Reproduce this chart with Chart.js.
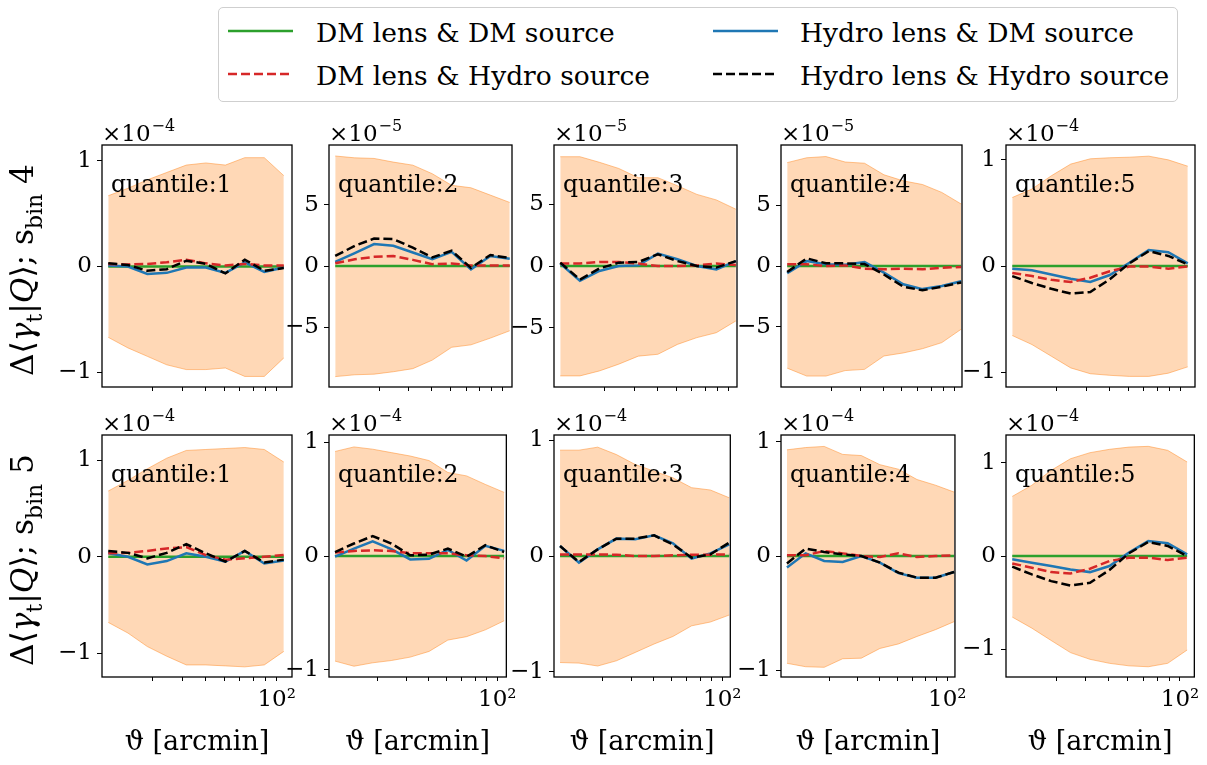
<!DOCTYPE html>
<html>
<head>
<meta charset="utf-8">
<script src="https://cdn.jsdelivr.net/npm/chart.js@4.4.1/dist/chart.umd.min.js"></script>
<style>
html,body{margin:0;padding:0;background:#ffffff;}
body{width:1207px;height:765px;position:relative;overflow:hidden;font-family:'DejaVu Serif',serif;}
canvas{position:absolute;}
#legend{position:absolute;left:218px;top:7px;width:960px;height:95px;border:1px solid #cfcfcf;border-radius:5px;box-sizing:border-box;background:#fff;}
.lgtext{position:absolute;font-size:26.5px;line-height:27px;white-space:nowrap;color:#000;}
svg.lgline{position:absolute;overflow:visible;}
</style>
</head>
<body>
<div id="legend"></div>
<script>
// ---------------- data ----------------
const thetaArcmin = [19.5, 23.6, 28.5, 34.4, 41.6, 50.3, 60.8, 73.4, 88.7, 107.2];
const quantileLabels = ['quantile:1', 'quantile:2', 'quantile:3', 'quantile:4', 'quantile:5'];
const sourceBins = ['4', '5'];
const offsetExponents_s4 = [-4, -5, -5, -5, -4];
const offsetExponents_s5 = [-4, -4, -4, -4, -4];
const xTickValues = [30, 40, 50, 60, 70, 80, 90, 100];
const xTickLabel100 = '10²';
const yTicks_s4 = [[-1, 0, 1], [-5, 0, 5], [-5, 0, 5], [-5, 0, 5], [-1, 0, 1]];
const yTicks_s5 = [[-1, 0, 1], [-1, 0, 1], [-1, 0, 1], [-1, 0, 1], [-1, 0, 1]];
const yMin_s4 = [-1.14, -9.9, -9.8, -9.95, -1.14];
const yMax_s4 = [1.15, 9.9, 9.8, 9.95, 1.14];
const yMin_s5 = [-1.245, -1.065, -1.045, -1.06, -1.30];
const yMax_s5 = [1.26, 1.065, 1.045, 1.06, 1.30];
const xMinArcmin = 18.35;
const xMaxArcmin = [116.1, 109.6, 108.4, 108.1, 115.0];

const legendLabels = ['DM lens & DM source', 'DM lens & Hydro source', 'Hydro lens & DM source', 'Hydro lens & Hydro source'];

const dmLensDmSource = [0, 0, 0, 0, 0, 0, 0, 0, 0, 0];

const hydroLensDmSource_s4 = [
  [0.01, 0.0, -0.07, -0.06, -0.01, -0.01, -0.06, 0.04, -0.05, -0.01],
  [0.33, 1.05, 1.8, 1.65, 1.1, 0.55, 1.15, -0.27, 0.82, 0.6],
  [0.2, -1.2, -0.4, 0.0, 0.05, 1.0, 0.55, 0.0, -0.27, 0.4],
  [-0.6, 0.4, 0.14, 0.1, 0.33, -0.55, -1.5, -1.9, -1.65, -1.25],
  [-0.025, -0.04, -0.08, -0.12, -0.15, -0.085, 0.03, 0.15, 0.13, 0.025]
];
const dmLensHydroSource_s4 = [
  [0.025, 0.02, 0.025, 0.04, 0.065, 0.03, 0.01, 0.025, 0.01, 0.01],
  [0.22, 0.55, 0.75, 0.82, 0.5, 0.15, 0.2, 0.05, 0.05, 0.05],
  [0.2, 0.2, 0.32, 0.32, 0.2, 0.0, 0.0, 0.05, 0.2, 0.08],
  [0.14, 0.14, 0.0, 0.05, -0.22, -0.27, -0.22, -0.27, -0.14, -0.08],
  [-0.065, -0.095, -0.13, -0.15, -0.11, -0.05, -0.005, -0.005, -0.025, -0.005]
];
const hydroLensHydroSource_s4 = [
  [0.03, 0.015, -0.04, -0.025, 0.055, 0.025, -0.065, 0.065, -0.04, -0.015],
  [0.82, 1.65, 2.25, 2.2, 1.5, 0.7, 1.25, -0.15, 0.9, 0.65],
  [0.27, -1.1, -0.2, 0.27, 0.32, 0.95, 0.4, 0.0, -0.13, 0.4],
  [-0.5, 0.63, 0.22, 0.22, 0.16, -0.7, -1.7, -2.0, -1.7, -1.35],
  [-0.095, -0.16, -0.215, -0.26, -0.245, -0.125, 0.025, 0.14, 0.095, 0.015]
];
const bandUpper_s4 = [
  [0.67, 0.74, 0.82, 0.89, 0.96, 0.98, 0.96, 1.03, 1.03, 0.86],
  [9.0, 8.85, 8.8, 8.5, 8.25, 7.55, 6.6, 6.4, 5.8, 5.2],
  [8.85, 8.85, 8.4, 7.9, 7.15, 7.15, 6.5, 5.8, 5.35, 4.6],
  [8.5, 8.9, 9.0, 8.55, 8.45, 7.5, 7.0, 6.7, 6.05, 5.1],
  [0.645, 0.725, 0.85, 0.96, 1.01, 1.02, 1.025, 1.035, 1.0, 0.94]
];
const bandLower_s4 = [
  [-0.67, -0.77, -0.85, -0.93, -0.975, -0.975, -0.96, -1.04, -1.04, -0.865],
  [-9.05, -8.9, -8.85, -8.65, -8.4, -7.7, -6.65, -6.45, -5.9, -5.3],
  [-8.9, -8.9, -8.5, -7.95, -7.3, -7.15, -6.35, -5.8, -5.4, -4.45],
  [-8.4, -9.05, -9.05, -8.6, -8.5, -7.4, -7.15, -6.8, -6.3, -5.2],
  [-0.655, -0.74, -0.85, -0.96, -1.015, -1.03, -1.04, -1.04, -1.01, -0.95]
];

const hydroLensDmSource_s5 = [
  [0.035, 0.0, -0.08, -0.045, 0.035, 0.0, -0.05, 0.06, -0.07, -0.04],
  [-0.006, 0.065, 0.13, 0.06, -0.03, -0.025, 0.053, -0.04, 0.09, 0.045],
  [0.086, -0.057, 0.057, 0.15, 0.144, 0.178, 0.11, -0.023, 0.023, 0.1],
  [-0.1, 0.023, -0.044, -0.053, 0.0, -0.058, -0.15, -0.19, -0.19, -0.14],
  [-0.036, -0.072, -0.108, -0.144, -0.173, -0.108, 0.036, 0.162, 0.137, 0.018]
];
const dmLensHydroSource_s5 = [
  [0.035, 0.04, 0.06, 0.085, 0.1, 0.017, -0.03, -0.017, 0.0, 0.017],
  [0.03, 0.045, 0.05, 0.045, 0.024, 0.024, 0.024, 0.006, 0.0, -0.02],
  [0.014, 0.014, 0.014, 0.011, 0.0, 0.0, 0.006, 0.011, 0.011, 0.014],
  [0.006, 0.006, 0.044, 0.023, 0.0, -0.009, 0.023, -0.009, 0.0, 0.006],
  [-0.08, -0.126, -0.173, -0.187, -0.137, -0.054, -0.018, -0.018, -0.043, -0.018]
];
const hydroLensHydroSource_s5 = [
  [0.06, 0.04, -0.017, 0.04, 0.13, 0.035, -0.05, 0.06, -0.06, -0.03],
  [0.035, 0.11, 0.175, 0.11, 0.006, 0.012, 0.065, -0.006, 0.095, 0.035],
  [0.086, -0.052, 0.057, 0.15, 0.15, 0.178, 0.1, -0.014, 0.014, 0.115],
  [-0.065, 0.065, 0.035, 0.015, 0.0, -0.058, -0.146, -0.19, -0.19, -0.14],
  [-0.115, -0.198, -0.27, -0.317, -0.288, -0.15, 0.029, 0.151, 0.108, 0.0]
];
const bandUpper_s5 = [
  [0.68, 0.79, 0.91, 1.02, 1.10, 1.11, 1.12, 1.13, 1.11, 0.98],
  [0.92, 0.96, 0.94, 0.91, 0.88, 0.84, 0.735, 0.705, 0.63, 0.56],
  [0.914, 0.914, 0.94, 0.876, 0.79, 0.733, 0.675, 0.59, 0.57, 0.503],
  [0.93, 0.95, 0.96, 0.89, 0.88, 0.8, 0.76, 0.67, 0.62, 0.56],
  [0.64, 0.76, 0.92, 1.045, 1.11, 1.146, 1.17, 1.178, 1.135, 1.01]
];
const bandLower_s5 = [
  [-0.68, -0.79, -0.93, -1.03, -1.12, -1.12, -1.13, -1.14, -1.12, -0.98],
  [-0.925, -0.97, -0.94, -0.92, -0.89, -0.84, -0.74, -0.71, -0.65, -0.57],
  [-0.92, -0.925, -0.95, -0.905, -0.833, -0.76, -0.695, -0.603, -0.57, -0.51],
  [-0.94, -0.97, -0.975, -0.9, -0.895, -0.81, -0.77, -0.705, -0.645, -0.575],
  [-0.656, -0.775, -0.908, -1.038, -1.11, -1.153, -1.18, -1.19, -1.153, -1.01]
];

// ---------------- layout / style ----------------
const FONT = "'DejaVu Serif', serif";
const colLeft = [102, 329, 554, 781, 1006];
const colRight = [292, 512, 737, 962, 1195];
const rowTop = [145, 435];
const rowBottom = [387, 677];
const C_GREEN = '#2ca02c', C_BLUE = '#1f77b4', C_RED = '#d62728', C_BLACK = '#000000';
const BAND_FILL = 'rgba(255,127,14,0.30)', BAND_EDGE = 'rgba(255,140,40,0.5)';
const DASH = [9, 4];

const rowsData = [
  {bin: sourceBins[0], exps: offsetExponents_s4, yt: yTicks_s4, ymin: yMin_s4, ymax: yMax_s4,
   blue: hydroLensDmSource_s4, red: dmLensHydroSource_s4, black: hydroLensHydroSource_s4, up: bandUpper_s4, lo: bandLower_s4},
  {bin: sourceBins[1], exps: offsetExponents_s5, yt: yTicks_s5, ymin: yMin_s5, ymax: yMax_s5,
   blue: hydroLensDmSource_s5, red: dmLensHydroSource_s5, black: hydroLensHydroSource_s5, up: bandUpper_s5, lo: bandLower_s5}
];

function pts(arr) { return arr.map((v, i) => ({x: thetaArcmin[i], y: v})); }
function fmtNum(v) { return v < 0 ? '\u2212' + Math.abs(v) : String(v); }

const panelDeco = {
  id: 'panelDeco',
  afterDatasetsDraw(chart, args, o) {
    const ctx = chart.ctx, a = chart.chartArea;
    ctx.save();
    ctx.strokeStyle = '#000';
    ctx.lineWidth = 1.3;
    ctx.strokeRect(a.left, a.top, a.right - a.left, a.bottom - a.top);
    ctx.fillStyle = '#000';
    ctx.textAlign = 'left';
    ctx.textBaseline = 'alphabetic';
    ctx.font = '23.5px ' + FONT;
    ctx.fillText(o.label, a.left + 9, a.top + 47);
    // offset text  x10^-n
    ctx.font = '23px ' + FONT;
    ctx.fillText('\u00d710', a.left, a.top - 4);
    const w = ctx.measureText('\u00d710').width;
    ctx.font = '16px ' + FONT;
    ctx.fillText('\u2212' + Math.abs(o.exp), a.left + w + 1, a.top - 14);
    // y title
    if (o.yBin) {
      const segs = [['\u0394\u27e8', 'n'], ['\u03b3', 'i'], ['t', 's'], ['|', 'n'], ['Q', 'i'], ['\u27e9; s', 'n'], ['bin', 's'], [' ' + o.yBin, 'n']];
      const fontFor = (k, S) => k === 'i' ? 'italic ' + S + 'px ' + FONT : (k === 's' ? (0.7 * S) + 'px ' + FONT : S + 'px ' + FONT);
      let S = 26, tot = 0;
      segs.forEach(s => { ctx.font = fontFor(s[1], S); tot += ctx.measureText(s[0]).width; });
      S = S * 212 / tot;
      let total = 0;
      const ws = segs.map(s => { ctx.font = fontFor(s[1], S); const ww = ctx.measureText(s[0]).width; total += ww; return ww; });
      const canvasLeft = parseFloat(chart.canvas.style.left);
      ctx.translate(33 - canvasLeft, (a.top + a.bottom) / 2 + 4);
      ctx.rotate(-Math.PI / 2);
      let x = -total / 2;
      segs.forEach((s, i) => {
        ctx.font = fontFor(s[1], S);
        ctx.fillText(s[0], x, s[1] === 's' ? 0.28 * S : 0);
        x += ws[i];
      });
    }
    ctx.restore();
  }
};

function makePanel(r, c) {
  const rd = rowsData[r];
  const L = c === 0 ? 100 : 60, T = 45, R = 10, B = r === 1 ? 84 : 30;
  const left = colLeft[c], right = colRight[c], top = rowTop[r], bottom = rowBottom[r];
  const W = right - left + L + R, H = bottom - top + T + B;
  const cv = document.createElement('canvas');
  cv.width = W; cv.height = H;
  cv.style.left = (left - L) + 'px';
  cv.style.top = (top - T) + 'px';
  cv.style.width = W + 'px';
  cv.style.height = H + 'px';
  document.body.appendChild(cv);
  const yt = rd.yt[c];
  const lineDs = (label, data, color, order, dash) => ({
    label, data: pts(data), borderColor: color, backgroundColor: color, borderWidth: 2.5,
    borderDash: dash || [], fill: false, order, pointRadius: 0, tension: 0
  });
  new Chart(cv, {
    type: 'line',
    data: {
      datasets: [
        {label: 'band upper', data: pts(rd.up[c]), borderColor: BAND_EDGE, backgroundColor: BAND_FILL, borderWidth: 1, fill: '+1', order: 6, pointRadius: 0, tension: 0},
        {label: 'band lower', data: pts(rd.lo[c]), borderColor: BAND_EDGE, backgroundColor: BAND_FILL, borderWidth: 1, fill: false, order: 5, pointRadius: 0, tension: 0},
        lineDs(legendLabels[0], dmLensDmSource, C_GREEN, 4),
        lineDs(legendLabels[2], rd.blue[c], C_BLUE, 3),
        lineDs(legendLabels[1], rd.red[c], C_RED, 2, DASH),
        lineDs(legendLabels[3], rd.black[c], C_BLACK, 1, DASH)
      ]
    },
    options: {
      responsive: false, animation: false, devicePixelRatio: 1,
      layout: {padding: {left: 0, top: T, right: R, bottom: 0}},
      plugins: {
        legend: {display: false}, tooltip: {enabled: false},
        panelDeco: {label: quantileLabels[c], exp: rd.exps[c], yBin: c === 0 ? rd.bin : null}
      },
      scales: {
        x: {
          type: 'logarithmic', min: xMinArcmin, max: xMaxArcmin[c],
          afterBuildTicks: s => { s.ticks = xTickValues.map(v => ({value: v, major: v === 100})); },
          afterFit: s => { s.height = B; },
          grid: {display: true, drawOnChartArea: false, drawTicks: true, tickLength: 4, color: '#000', tickColor: '#000', tickWidth: 1},
          border: {display: false},
          ticks: {autoSkip: false, maxRotation: 0, minRotation: 0, padding: 5, color: '#000', font: {family: FONT, size: 23},
                  callback: v => (r === 1 && Math.abs(v - 100) < 1e-6) ? xTickLabel100 : ''},
          title: {display: r === 1, text: '\u03d1 [arcmin]', color: '#000', font: {family: FONT, size: 27}, padding: {top: 0, bottom: 2}}
        },
        y: {
          type: 'linear', min: rd.ymin[c], max: rd.ymax[c],
          afterBuildTicks: s => { s.ticks = yt.map(v => ({value: v})); },
          afterFit: s => { s.width = L; },
          grid: {display: true, drawOnChartArea: false, drawTicks: true, tickLength: 5, color: '#000', tickColor: '#000', tickWidth: 1},
          border: {display: false},
          ticks: {padding: 5, color: '#000', font: {family: FONT, size: 23}, callback: v => fmtNum(v)}
        }
      }
    },
    plugins: [panelDeco]
  });
}

for (let r = 0; r < 2; r++) for (let c = 0; c < 5; c++) makePanel(r, c);

// ---------------- legend ----------------
const legendItems = [
  {text: legendLabels[0], color: C_GREEN, dash: null, x1: 228, x2: 293, y: 31, tx: 316, base: 42},
  {text: legendLabels[1], color: C_RED, dash: DASH, x1: 228, x2: 293, y: 74, tx: 316, base: 85},
  {text: legendLabels[2], color: C_BLUE, dash: null, x1: 713, x2: 778, y: 31, tx: 800, base: 42},
  {text: legendLabels[3], color: C_BLACK, dash: DASH, x1: 713, x2: 778, y: 74, tx: 800, base: 85}
];
legendItems.forEach(it => {
  const ns = 'http://www.w3.org/2000/svg';
  const svg = document.createElementNS(ns, 'svg');
  svg.setAttribute('class', 'lgline');
  svg.setAttribute('width', it.x2 - it.x1);
  svg.setAttribute('height', 6);
  svg.style.left = it.x1 + 'px';
  svg.style.top = (it.y - 3) + 'px';
  const ln = document.createElementNS(ns, 'line');
  ln.setAttribute('x1', 0); ln.setAttribute('x2', it.x2 - it.x1);
  ln.setAttribute('y1', 3); ln.setAttribute('y2', 3);
  ln.setAttribute('stroke', it.color); ln.setAttribute('stroke-width', 2.5);
  if (it.dash) ln.setAttribute('stroke-dasharray', it.dash.join(' '));
  svg.appendChild(ln);
  document.body.appendChild(svg);
  const sp = document.createElement('div');
  sp.className = 'lgtext';
  sp.textContent = it.text;
  sp.style.left = it.tx + 'px';
  sp.style.top = (it.base - 23) + 'px';
  document.body.appendChild(sp);
});
</script>
</body>
</html>
